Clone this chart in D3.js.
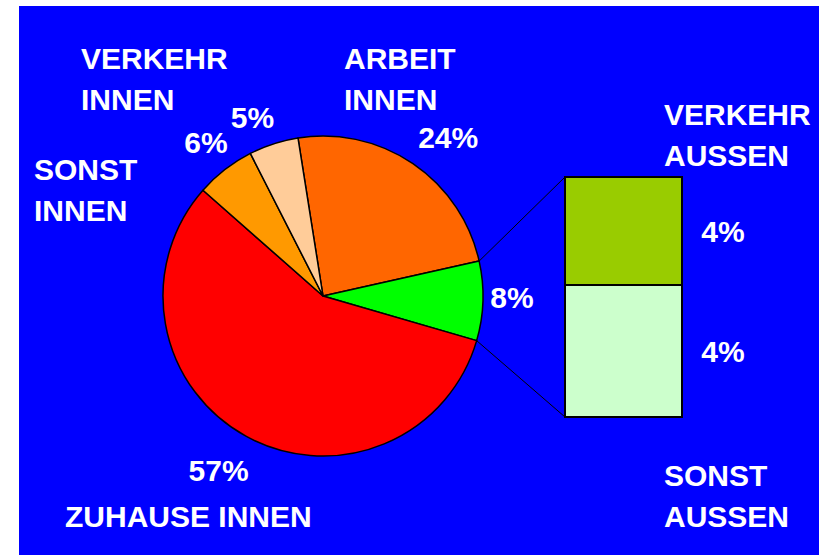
<!DOCTYPE html>
<html>
<head>
<meta charset="utf-8">
<script src="https://cdn.jsdelivr.net/npm/d3@7"></script>
<style>
  body { margin: 0; background: #fff; }
  svg { display: block; }
  text { font-family: "Liberation Sans", Arial, sans-serif; font-weight: bold; fill: #fff; }
</style>
</head>
<body>
<div id="chart"></div>
<script>
// pie slices, clockwise from the top
var pieNames = ["ARBEIT\nINNEN", "AUSSEN", "ZUHAUSE INNEN", "SONST\nINNEN", "VERKEHR\nINNEN"];
var pieValues = [24, 8, 57, 6, 5];
var pieColors = ["#ff6600", "#00ff00", "#ff0000", "#ff9900", "#ffcc99"];

// breakdown of the 8% slice, bottom to top
var barNames = ["SONST\nAUSSEN", "VERKEHR\nAUSSEN"];
var barValues = [4.4, 3.6];
var barColors = ["#ccffcc", "#99cc00"];

var w = 819, h = 555;
var cx = 323, cy = 296, r = 160;
var startDeg = -9;

// small hand nudges of the % labels, like the original layout
var pctNudge = [[15, 3], [-7, -5], [-10, 2], [3, 1], [-10, 8]];

var svg = d3.select("#chart").append("svg")
  .attr("width", w)
  .attr("height", h);

svg.append("rect")
  .attr("x", 19).attr("y", 6)
  .attr("width", w - 19).attr("height", h - 6)
  .attr("fill", "#0000ff");

var pie = d3.pie().sort(null)
  .startAngle(startDeg * Math.PI / 180)
  .endAngle(startDeg * Math.PI / 180 + 2 * Math.PI);
var arcs = pie(pieValues);

var arc = d3.arc().innerRadius(0).outerRadius(r);
var labelArc = d3.arc().innerRadius(196).outerRadius(196);

var g = svg.append("g").attr("transform", "translate(" + cx + "," + cy + ")");

g.selectAll("path.slice")
  .data(arcs)
  .enter()
  .append("path")
  .attr("class", "slice")
  .attr("d", arc)
  .attr("fill", function(d, i) { return pieColors[i]; })
  .attr("stroke", "#000")
  .attr("stroke-width", 1.5)
  .attr("stroke-linejoin", "round");

g.selectAll("text.pct")
  .data(arcs)
  .enter()
  .append("text")
  .attr("class", "pct")
  .attr("transform", function(d, i) {
    var c = labelArc.centroid(d);
    return "translate(" + (c[0] + pctNudge[i][0]) + "," + (c[1] + pctNudge[i][1]) + ")";
  })
  .attr("text-anchor", "middle")
  .attr("dy", "0.36em")
  .style("font-size", "30px")
  .text(function(d) { return d.value + "%"; });

// stacked bar for the exploded slice
var barX = 565, barW = 117;
var y = d3.scaleLinear()
  .domain([0, d3.sum(barValues)])
  .range([417, 177]);

var stack = [];
var acc = 0;
barValues.forEach(function(v, i) {
  stack.push({ y0: acc, y1: acc + v, i: i });
  acc += v;
});

// connector lines from the slice edges to the bar corners
var sl = arcs[1];
var pTop = [cx + r * Math.sin(sl.startAngle), cy - r * Math.cos(sl.startAngle)];
var pBot = [cx + r * Math.sin(sl.endAngle), cy - r * Math.cos(sl.endAngle)];
svg.append("line")
  .attr("x1", pTop[0]).attr("y1", pTop[1])
  .attr("x2", barX).attr("y2", y(acc))
  .attr("stroke", "#000").attr("stroke-width", 1);
svg.append("line")
  .attr("x1", pBot[0]).attr("y1", pBot[1])
  .attr("x2", barX).attr("y2", y(0))
  .attr("stroke", "#000").attr("stroke-width", 1);

svg.selectAll("rect.seg")
  .data(stack)
  .enter()
  .append("rect")
  .attr("class", "seg")
  .attr("x", barX)
  .attr("width", barW)
  .attr("y", function(d) { return y(d.y1); })
  .attr("height", function(d) { return y(d.y0) - y(d.y1); })
  .attr("fill", function(d) { return barColors[d.i]; })
  .attr("stroke", "#000")
  .attr("stroke-width", 2);

svg.selectAll("text.barpct")
  .data(stack)
  .enter()
  .append("text")
  .attr("class", "barpct")
  .attr("x", barX + barW + 41)
  .attr("y", function(d) { return (y(d.y0) + y(d.y1)) / 2; })
  .attr("text-anchor", "middle")
  .attr("dy", "0.36em")
  .style("font-size", "30px")
  .text(function(d) { return Math.round(d.y1 - d.y0) + "%"; });

// category names (text blocks)
var nameSpots = [
  { text: pieNames[0], x: 344, y: 69 },
  { text: pieNames[2], x: 65, y: 527 },
  { text: pieNames[3], x: 34, y: 180 },
  { text: pieNames[4], x: 81, y: 69 },
  { text: barNames[1], x: 664, y: 125 },
  { text: barNames[0], x: 664, y: 486 }
];

var names = svg.selectAll("text.name")
  .data(nameSpots)
  .enter()
  .append("text")
  .attr("class", "name")
  .attr("x", function(d) { return d.x; })
  .attr("y", function(d) { return d.y; })
  .style("font-size", "30px");

names.selectAll("tspan")
  .data(function(d) { return d.text.split("\n").map(function(t) { return { t: t, x: d.x }; }); })
  .enter()
  .append("tspan")
  .attr("x", function(d) { return d.x; })
  .attr("dy", function(d, i) { return i === 0 ? 0 : 41; })
  .text(function(d) { return d.t; });
</script>
</body>
</html>
